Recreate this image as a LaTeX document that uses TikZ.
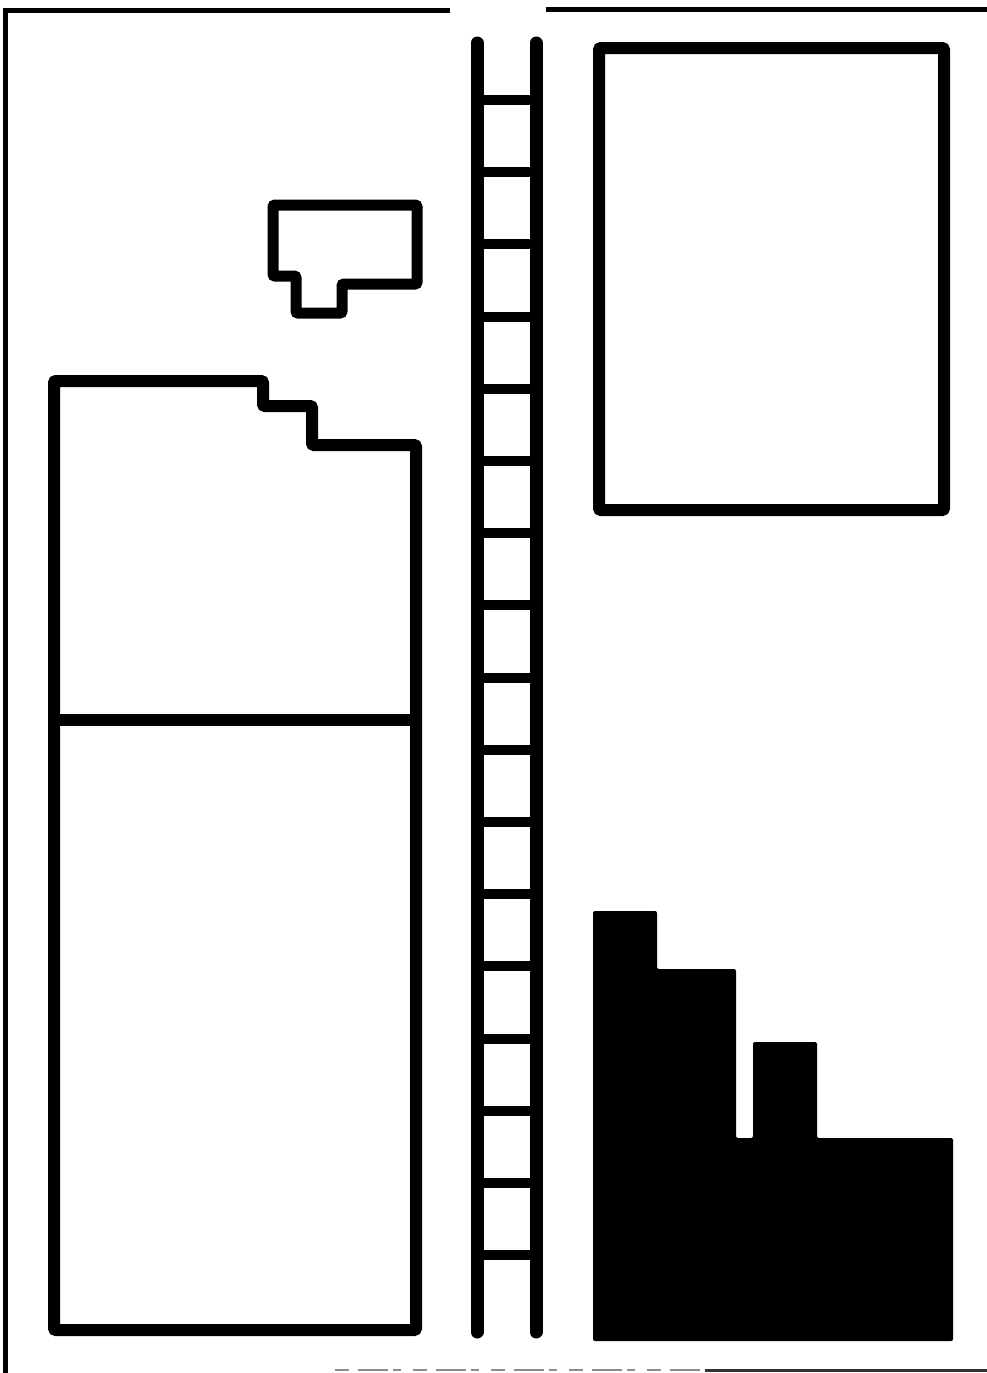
\documentclass[tikz,border=0pt]{standalone}
\usetikzlibrary{positioning}

\begin{document}
\begin{tikzpicture}[
    x=1pt, y=-1pt,
    wall/.style={line width=12pt, rounded corners=2pt, line join=miter},
    hut/.style={line width=11pt, rounded corners=2pt, line join=miter},
    rail/.style={line width=13pt, line cap=round},
    rung/.style={line width=10pt},
    frame/.style={line width=5pt},
    block/.style={fill=black, rounded corners=2pt},
  ]
  \useasboundingbox (0,0) rectangle (987,1373);

  % --- page frame ---
  \draw[frame] (450,10) -- (5,10) -- (5,1373);
  \draw[frame] (546,9) -- (987,9);
  \draw[line width=2.5pt, black!45, dash pattern=on 14pt off 9pt on 30pt off 5pt on 8pt off 12pt] (335,1370) -- (705,1370);
  \draw[line width=3pt, black!80] (705,1370) -- (987,1370);

  % --- small outline with notch ---
  \draw[hut] (273,205) -- (417,205) -- (417,284) -- (342,284) -- (342,313)
    -- (296,313) -- (296,276) -- (273,276) -- cycle;

  % --- tall stepped outline, split in two ---
  \draw[wall] (54,381) -- (263,381) -- (263,406) -- (312,406) -- (312,445)
    -- (416,445) -- (416,1330) -- (54,1330) -- cycle;
  \draw[wall] (54,720) -- (416,720);

  % --- ladder ---
  \coordinate (railL) at (477,43);
  \coordinate (railR) at (536,43);
  \foreach \k in {0,...,16}
    \draw[rung] (477,{100+72.2*\k}) -- (536,{100+72.2*\k});
  \draw[rail] (railL) -- (477,1332);
  \draw[rail] (railR) -- (536,1332);

  % --- right upper outline ---
  \draw[wall] (599,48) rectangle (944,510);

  % --- right lower solid steps ---
  \fill[block] (593,911) -- (657,911) -- (657,969) -- (736,969) -- (736,1138)
    -- (753,1138) -- (753,1042) -- (817,1042) -- (817,1138) -- (953,1138)
    -- (953,1341) -- (593,1341) -- cycle;
\end{tikzpicture}
\end{document}
